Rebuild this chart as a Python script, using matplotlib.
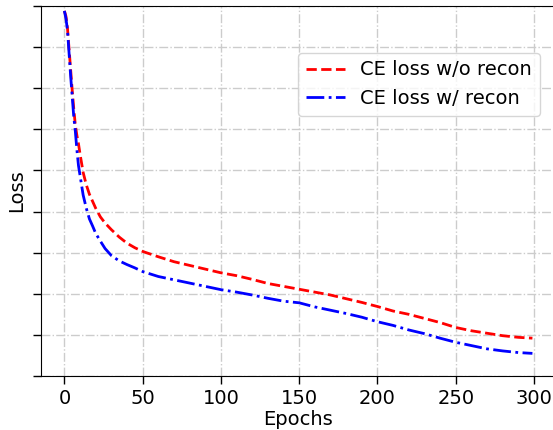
import numpy as np
import matplotlib
matplotlib.use('Agg')
import matplotlib.pyplot as plt

# 读取的数据点 (epoch, loss)
epochs = [0, 1, 2, 3, 4, 5, 6, 7, 8, 9, 10, 12, 14, 16, 18, 20, 23, 26, 30, 35,
          40, 45, 50, 60, 70, 80, 90, 100, 110, 120, 130, 140, 150, 160, 170,
          180, 190, 200, 210, 220, 230, 240, 250, 260, 270, 280, 290, 299]
loss_wo_recon = [8.88, 8.75, 8.45, 7.95, 7.45, 6.95, 6.5, 6.1, 5.85, 5.65, 5.4,
                 4.95, 4.65, 4.42, 4.25, 4.08, 3.87, 3.72, 3.56, 3.38, 3.23,
                 3.12, 3.03, 2.9, 2.78, 2.69, 2.6, 2.51, 2.44, 2.35, 2.25, 2.18,
                 2.11, 2.04, 1.97, 1.88, 1.79, 1.69, 1.58, 1.5, 1.4, 1.3, 1.18,
                 1.1, 1.04, 0.98, 0.94, 0.92]
loss_w_recon = [8.88, 8.7, 8.4, 7.85, 7.3, 6.8, 6.3, 5.95, 5.5, 5.12, 4.88,
                4.4, 4.08, 3.82, 3.65, 3.47, 3.28, 3.1, 2.93, 2.8, 2.71, 2.63,
                2.54, 2.42, 2.34, 2.26, 2.18, 2.1, 2.04, 1.97, 1.89, 1.82,
                1.78, 1.68, 1.6, 1.52, 1.43, 1.32, 1.23, 1.12, 1.03, 0.92,
                0.82, 0.74, 0.66, 0.61, 0.57, 0.55]
y_ticks = np.arange(0, 10)

fig = plt.figure(figsize=(5.53, 4.3), dpi=100)
ax = fig.add_axes([0.0741, 0.1256, 0.931, 0.8605])

ax.plot(epochs, loss_wo_recon, color='red', linestyle='--', linewidth=2,
        label='CE loss w/o recon')
ax.plot(epochs, loss_w_recon, color='blue', linestyle='-.', linewidth=2,
        label='CE loss w/ recon')

ax.set_xlim(-14.95, 313.95)
ax.set_ylim(0, 9)
ax.set_xticks([0, 50, 100, 150, 200, 250, 300])
ax.set_yticks(y_ticks)
ax.set_yticklabels([])
ax.tick_params(axis='both', labelsize=14, length=6, width=1)
ax.grid(True, linestyle='-.', color='#cccccc', linewidth=1)
ax.spines['right'].set_visible(False)

ax.set_xlabel('Epochs', fontsize=14, labelpad=1)
ax.set_ylabel('Loss', fontsize=14, labelpad=1)
ax.legend(loc='upper right', bbox_to_anchor=(0.988, 0.90), fontsize=14)

fig.savefig('out.png', dpi=100)
